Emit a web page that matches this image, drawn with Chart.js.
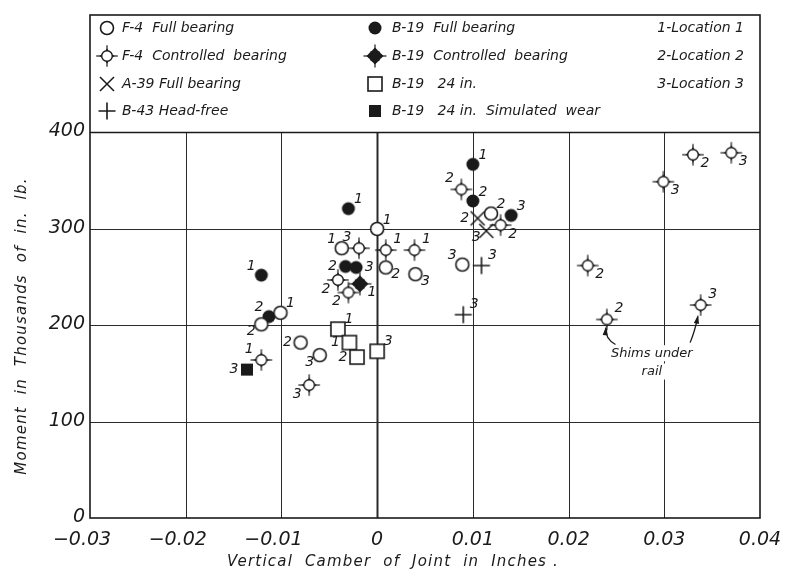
<!DOCTYPE html>
<html>
<head>
<meta charset="utf-8">
<script src="https://cdn.jsdelivr.net/npm/chart.js@4.4.1/dist/chart.umd.min.js"></script>
<style>
  html, body { margin: 0; padding: 0; background: #fff; }
  #wrap { width: 790px; height: 573px; }
</style>
</head>
<body>
<div id="wrap"><canvas id="c" width="790" height="573"></canvas></div>
<script>
// Vertical camber of joint (in.) against moment (thousands of in.-lb.)

// Axis ticks
const xTickValues = [-0.03, -0.02, -0.01, 0, 0.01, 0.02, 0.03, 0.04];
const xTickLabels = ['\u22120.03', '\u22120.02', '\u22120.01', '0', '0.01', '0.02', '0.03', '0.04'];
const yTickValues = [0, 100, 200, 300, 400];
const yTickLabels = ['0', '100', '200', '300', '400'];

// F-4, full bearing
const f4FullCamber = [0.0000, -0.0037, 0.0009, 0.0040, -0.0101, -0.0121, -0.0080, -0.0060, 0.0119, 0.0089];
const f4FullMoment = [300, 280, 260, 253, 213, 201, 182, 169, 316, 263];
const f4FullLoc    = ['1', '1', '2', '3', '1', '2', '2', '3', '2', '3'];

// F-4, controlled bearing
const f4CtrlCamber = [-0.0019, 0.0009, 0.0039, -0.0041, -0.0030, -0.0121, -0.0071, 0.0088, 0.0129, 0.0220, 0.0240, 0.0299, 0.0338, 0.0330, 0.0370];
const f4CtrlMoment = [280, 278, 278, 247, 234, 164, 138, 341, 304, 262, 206, 349, 221, 377, 379];
const f4CtrlLoc    = ['3', '1', '1', '2', '2', '1', '3', '2', '2', '2', '2', '3', '3', '2', '3'];

// A-39, full bearing
const a39FullCamber = [0.0105, 0.0114];
const a39FullMoment = [311, 298];
const a39FullLoc    = ['2', '3'];

// B-43, head-free
const b43FreeCamber = [0.0109, 0.0090];
const b43FreeMoment = [262, 211];
const b43FreeLoc    = ['3', '3'];

// B-19, full bearing
const b19FullCamber = [0.0100, 0.0100, 0.0140, -0.0030, -0.0121, -0.0113, -0.0033, -0.0022];
const b19FullMoment = [367, 329, 314, 321, 252, 209, 261, 260];
const b19FullLoc    = ['1', '2', '3', '1', '1', '2', '2', '3'];

// B-19, controlled bearing
const b19CtrlCamber = [-0.0018];
const b19CtrlMoment = [243];
const b19CtrlLoc    = ['1'];

// B-19, 24 in.
const b19BarCamber = [-0.0041, -0.0029, -0.0021, 0.0000];
const b19BarMoment = [196, 182, 167, 173];
const b19BarLoc    = ['1', '1', '2', '3'];

// B-19, 24 in., simulated wear
const b19WearCamber = [-0.0136];
const b19WearMoment = [154];
const b19WearLoc    = ['3'];

// Where each location number sits beside its mark
const f4FullSpots  = ['ur', 'ul', 'lr', 'lr', 'ur', 'll', 'l', 'll', 'ur', 'ul'];
const f4CtrlSpots  = ['ul', 'ur', 'ur', 'll', 'll', 'ul', 'll', 'ul', 'lr', 'lr', 'ur', 'lr', 'ur', 'lr', 'lr'];
const a39FullSpots = ['l', 'll'];
const b43FreeSpots = ['ur', 'ur'];
const b19FullSpots = ['ur', 'ur', 'ur', 'ur', 'ul', 'ul', 'l', 'r'];
const b19CtrlSpots = ['lr'];
const b19BarSpots  = ['ur', 'l', 'l', 'ur'];
const b19WearSpots = ['l'];

// Key text
const keyNames = ['F-4  Full bearing', 'F-4  Controlled  bearing', 'A-39 Full bearing', 'B-43 Head-free',
                  'B-19  Full bearing', 'B-19  Controlled  bearing', 'B-19   24 in.', 'B-19   24 in.  Simulated  wear'];
const keyLocations = ['1-Location 1', '2-Location 2', '3-Location 3'];

const INK = '#1a1a1a';
const FONT = '"DejaVu Sans", sans-serif';

// ---- mark glyphs ----
function spikes(g, m, r, len, base) {
  g.save();
  g.translate(m, m);
  g.strokeStyle = INK;
  g.fillStyle = INK;
  g.lineWidth = 1.2;
  for (let k = 0; k < 4; k++) {
    g.save();
    g.rotate(k * Math.PI / 2);
    g.beginPath(); g.moveTo(0, -r); g.lineTo(0, -r - len); g.stroke();
    g.beginPath();
    g.moveTo(-base, -r + 0.5);
    g.lineTo(0, -r - 2.5);
    g.lineTo(base, -r + 0.5);
    g.closePath(); g.fill();
    g.restore();
  }
  g.restore();
}
function makeMark(kind) {
  const s = 28, m = s / 2;
  const c = document.createElement('canvas');
  c.width = s; c.height = s;
  const g = c.getContext('2d');
  g.strokeStyle = INK; g.fillStyle = '#fff'; g.lineWidth = 1.6;
  if (kind === 'ring') {
    g.beginPath(); g.arc(m, m, 6.5, 0, Math.PI * 2); g.fill(); g.stroke();
  } else if (kind === 'dot') {
    g.fillStyle = INK; g.beginPath(); g.arc(m, m, 6.5, 0, Math.PI * 2); g.fill();
  } else if (kind === 'ringSpikes') {
    spikes(g, m, 5.3, 5.5, 1.8);
    g.fillStyle = '#fff'; g.strokeStyle = INK; g.lineWidth = 1.4;
    g.beginPath(); g.arc(m, m, 5.3, 0, Math.PI * 2); g.fill(); g.stroke();
  } else if (kind === 'dotSpikes') {
    spikes(g, m, 6, 5.5, 3);
    g.fillStyle = INK; g.beginPath(); g.arc(m, m, 6.3, 0, Math.PI * 2); g.fill();
  } else if (kind === 'cross') {
    g.lineWidth = 1.5; g.beginPath();
    g.moveTo(m - 7, m - 7); g.lineTo(m + 7, m + 7);
    g.moveTo(m + 7, m - 7); g.lineTo(m - 7, m + 7); g.stroke();
  } else if (kind === 'plus') {
    g.lineWidth = 1.6; g.beginPath();
    g.moveTo(m - 8.5, m); g.lineTo(m + 8.5, m);
    g.moveTo(m, m - 8.5); g.lineTo(m, m + 8.5); g.stroke();
  } else if (kind === 'box') {
    g.lineWidth = 1.6; g.fillRect(m - 7, m - 7, 14, 14); g.strokeRect(m - 7, m - 7, 14, 14);
  } else if (kind === 'block') {
    g.fillStyle = INK; g.fillRect(m - 6, m - 6, 12, 12);
  }
  return c;
}

const series = [
  { name: keyNames[0], x: f4FullCamber,  y: f4FullMoment,  loc: f4FullLoc,  spots: f4FullSpots,  mark: 'ring',       r: 7 },
  { name: keyNames[1], x: f4CtrlCamber,  y: f4CtrlMoment,  loc: f4CtrlLoc,  spots: f4CtrlSpots,  mark: 'ringSpikes', r: 9 },
  { name: keyNames[2], x: a39FullCamber, y: a39FullMoment, loc: a39FullLoc, spots: a39FullSpots, mark: 'cross',      r: 7 },
  { name: keyNames[3], x: b43FreeCamber, y: b43FreeMoment, loc: b43FreeLoc, spots: b43FreeSpots, mark: 'plus',       r: 8 },
  { name: keyNames[4], x: b19FullCamber, y: b19FullMoment, loc: b19FullLoc, spots: b19FullSpots, mark: 'dot',        r: 7 },
  { name: keyNames[5], x: b19CtrlCamber, y: b19CtrlMoment, loc: b19CtrlLoc, spots: b19CtrlSpots, mark: 'dotSpikes',  r: 9 },
  { name: keyNames[6], x: b19BarCamber,  y: b19BarMoment,  loc: b19BarLoc,  spots: b19BarSpots,  mark: 'box',        r: 8 },
  { name: keyNames[7], x: b19WearCamber, y: b19WearMoment, loc: b19WearLoc, spots: b19WearSpots, mark: 'block',      r: 7 }
];
series.forEach(s => { s.glyph = makeMark(s.mark); });

const datasets = series.map(s => ({
  label: s.name,
  data: s.x.map((v, i) => ({ x: v, y: s.y[i] })),
  pointStyle: s.glyph,
  pointRadius: 8,
  showLine: false
}));

function line(ctx, x1, y1, x2, y2) {
  ctx.beginPath(); ctx.moveTo(x1, y1); ctx.lineTo(x2, y2); ctx.stroke();
}

function arrow(ctx, x, y, from, cp) {
  const p0 = [x.getPixelForValue(from[0]), y.getPixelForValue(from[1])];
  const c  = [x.getPixelForValue(cp[0]), y.getPixelForValue(cp[1])];
  const p1 = [x.getPixelForValue(cp[2]), y.getPixelForValue(cp[3])];
  ctx.beginPath(); ctx.moveTo(p0[0], p0[1]); ctx.quadraticCurveTo(c[0], c[1], p1[0], p1[1]); ctx.stroke();
  const ang = Math.atan2(p1[1] - c[1], p1[0] - c[0]);
  ctx.save(); ctx.translate(p1[0], p1[1]); ctx.rotate(ang);
  ctx.beginPath(); ctx.moveTo(2, 0); ctx.lineTo(-7, -2.6); ctx.lineTo(-7, 2.6); ctx.closePath(); ctx.fill();
  ctx.restore();
}

const paper = {
  id: 'paper',
  beforeDatasetsDraw(chart) {
    const { ctx, chartArea: a, scales: { x, y } } = chart;
    const y400 = y.getPixelForValue(400);
    ctx.save();
    ctx.strokeStyle = '#2a2a2a';
    ctx.fillStyle = INK;

    // vertical rules (stop at the key)
    xTickValues.forEach((v, i) => {
      if (i === 0 || i === xTickValues.length - 1) return;
      const px = Math.round(x.getPixelForValue(v)) + 0.5;
      ctx.lineWidth = v === 0 ? 2 : 1;
      line(ctx, px, a.bottom, px, y400);
    });
    // horizontal rules
    ctx.lineWidth = 1;
    yTickValues.forEach((v, i) => {
      if (i === 0 || i === yTickValues.length - 1) return;
      const py = Math.round(y.getPixelForValue(v)) + 0.5;
      line(ctx, a.left, py, a.right, py);
    });
    ctx.strokeStyle = INK;
    ctx.lineWidth = 1.6;
    line(ctx, a.left, y400, a.right, y400);
    ctx.strokeRect(a.left, a.top, a.right - a.left, a.bottom - a.top);

    // key
    ctx.font = 'italic 14px ' + FONT;
    ctx.textBaseline = 'middle';
    ctx.textAlign = 'left';
    const rowY = [28, 56, 84, 111];
    series.forEach((s, i) => {
      const col = Math.floor(i / 4), row = i % 4;
      const mx = col === 0 ? 107 : 375;
      const tx = col === 0 ? 122 : 392;
      ctx.drawImage(s.glyph, mx - s.glyph.width / 2, rowY[row] - s.glyph.height / 2);
      ctx.fillText(s.name, tx, rowY[row]);
    });
    ctx.textAlign = 'right';
    keyLocations.forEach((t, i) => ctx.fillText(t, 744, rowY[i]));

    // tick labels
    ctx.font = 'italic 19px ' + FONT;
    ctx.textAlign = 'right';
    yTickValues.forEach((v, i) => {
      ctx.fillText(yTickLabels[i], a.left - 5, y.getPixelForValue(v) - 1);
    });
    ctx.textAlign = 'center';
    xTickValues.forEach((v, i) => {
      const px = x.getPixelForValue(v);
      const txt = xTickLabels[i];
      if (txt.startsWith('\u2212')) {
        const num = txt.slice(1);
        const w = ctx.measureText(num).width;
        ctx.fillText(num, px, a.bottom + 22);
        ctx.textAlign = 'right';
        ctx.fillText('\u2212', px - w / 2, a.bottom + 22);
        ctx.textAlign = 'center';
      } else {
        ctx.fillText(txt, px, a.bottom + 22);
      }
    });

    // axis titles
    ctx.font = 'italic 15px ' + FONT;
    ctx.letterSpacing = '1.2px';
    ctx.fillText('Vertical  Camber  of  Joint  in  Inches .', 393, 562);
    ctx.save();
    ctx.translate(22, 326);
    ctx.rotate(-Math.PI / 2);
    ctx.fillText('Moment  in  Thousands  of  in.  lb.', 0, 0);
    ctx.restore();
    ctx.letterSpacing = '0px';

    // shim note
    ctx.font = 'italic 13px ' + FONT;
    const nx = x.getPixelForValue(0.0287);
    const n1 = y.getPixelForValue(171), n2 = y.getPixelForValue(152);
    ctx.fillStyle = '#fff';
    ctx.fillRect(nx - 42, n1 - 8, 84, 16);
    ctx.fillRect(nx - 16, n2 - 8, 32, 16);
    ctx.fillStyle = INK;
    ctx.fillText('Shims under', nx, n1);
    ctx.fillText('rail', nx, n2);
    ctx.lineWidth = 1.3;
    ctx.strokeStyle = INK;
    arrow(ctx, x, y, [0.0249, 180], [0.0238, 186, 0.0239, 197]);
    arrow(ctx, x, y, [0.0327, 182], [0.0332, 194, 0.0335, 209]);
    ctx.restore();
  },
  afterDatasetsDraw(chart) {
    const { ctx } = chart;
    ctx.save();
    ctx.font = 'italic 14px ' + FONT;
    ctx.fillStyle = INK;
    ctx.textAlign = 'center';
    ctx.textBaseline = 'middle';
    series.forEach((s, di) => {
      const meta = chart.getDatasetMeta(di);
      meta.data.forEach((pt, i) => {
        const r = s.r;
        let dx = 0, dy = 0;
        switch (s.spots[i]) {
          case 'ur': dx = r + 3; dy = -r - 2; break;
          case 'ul': dx = -r - 3; dy = -r - 2; break;
          case 'lr': dx = r + 3; dy = r; break;
          case 'll': dx = -r - 3; dy = r; break;
          case 'l':  dx = -r - 6; dy = 0; break;
          case 'r':  dx = r + 6; dy = 0; break;
        }
        ctx.fillText(s.loc[i], pt.x + dx, pt.y + dy);
      });
    });
    ctx.restore();
  }
};

new Chart(document.getElementById('c'), {
  type: 'scatter',
  data: { datasets },
  options: {
    responsive: false,
    animation: false,
    layout: { padding: { left: 90, right: 30, top: 15, bottom: 55 } },
    plugins: { legend: { display: false }, tooltip: { enabled: false } },
    events: [],
    scales: {
      x: {
        type: 'linear', min: -0.03, max: 0.04,
        grid: { display: false }, border: { display: false },
        ticks: { display: false },
        afterBuildTicks: s => { s.ticks = xTickValues.map(v => ({ value: v })); },
        afterFit: s => { s.height = 0; }
      },
      y: {
        type: 'linear', min: 0, max: 522,
        grid: { display: false }, border: { display: false },
        ticks: { display: false },
        afterBuildTicks: s => { s.ticks = yTickValues.map(v => ({ value: v })); },
        afterFit: s => { s.width = 0; }
      }
    }
  },
  plugins: [paper]
});
</script>
</body>
</html>
